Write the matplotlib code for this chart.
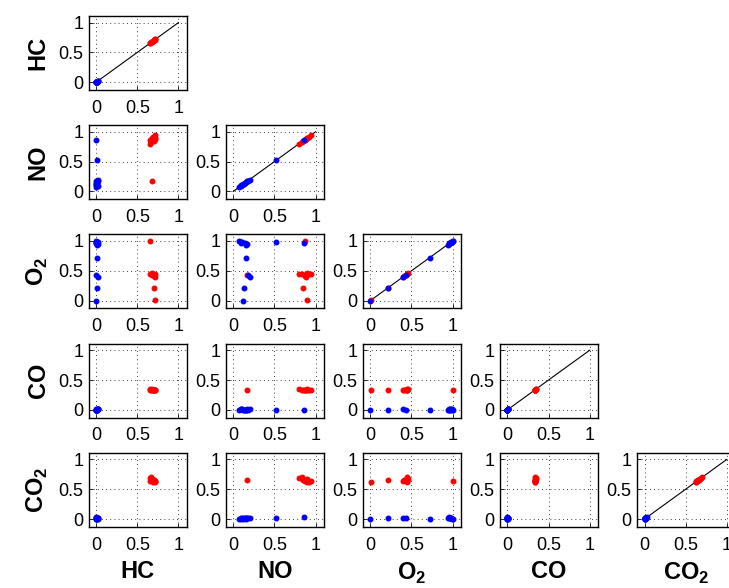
import matplotlib
matplotlib.use("Agg")
import matplotlib.pyplot as plt
import numpy as np

plt.rcParams['font.family'] = ['Liberation Sans', 'DejaVu Sans']
plt.rcParams['mathtext.fontset'] = 'custom'
plt.rcParams['mathtext.bf'] = 'Liberation Sans:bold'
plt.rcParams['mathtext.rm'] = 'Liberation Sans'

names = ['HC', 'NO', r'O$_\mathbf{2}$', 'CO', r'CO$_\mathbf{2}$']

# blaue Gruppe: HC, NO, O2, CO, CO2
blue_HC = [0.00, 0.01, 0.00, 0.02, 0.01, 0.00, 0.02, 0.01, 0.00, 0.01, 0.00, 0.02, 0.01, 0.00]
blue_NO = [0.07, 0.10, 0.14, 0.17, 0.15, 0.18, 0.20, 0.13, 0.12, 0.52, 0.86, 0.09, 0.16, 0.11]
blue_O2 = [1.00, 0.97, 0.97, 0.95, 0.72, 0.43, 0.40, 0.22, 0.00, 0.98, 0.96, 0.99, 0.94, 0.98]
blue_CO = [0.00, 0.01, 0.00, 0.01, 0.00, 0.00, 0.01, 0.00, 0.00, 0.00, 0.00, 0.01, 0.00, 0.01]
blue_CO2 = [0.00, 0.01, 0.02, 0.01, 0.00, 0.01, 0.02, 0.01, 0.00, 0.02, 0.03, 0.00, 0.01, 0.02]

# rote Gruppe
red_HC = [0.65, 0.70, 0.72, 0.68, 0.66, 0.67, 0.70, 0.72, 0.69, 0.71, 0.68]
red_NO = [0.87, 0.85, 0.90, 0.17, 0.80, 0.83, 0.87, 0.94, 0.92, 0.88, 0.90]
red_O2 = [1.00, 0.22, 0.01, 0.43, 0.44, 0.44, 0.41, 0.44, 0.45, 0.40, 0.46]
red_CO = [0.34, 0.33, 0.33, 0.34, 0.35, 0.34, 0.33, 0.34, 0.33, 0.34, 0.35]
red_CO2 = [0.64, 0.65, 0.62, 0.65, 0.68, 0.70, 0.66, 0.63, 0.62, 0.64, 0.67]

blue = [blue_HC, blue_NO, blue_O2, blue_CO, blue_CO2]
red = [red_HC, red_NO, red_O2, red_CO, red_CO2]

W, H = 729, 588
fig = plt.figure(figsize=(W/100, H/100), dpi=100)

n = len(names)
for i in range(n):       # Zeile
    for j in range(i+1):  # Spalte
        left = 88.7 + 137.1*j
        top = 16 + 109.2*i
        ax = fig.add_axes([left/W, 1 - (top + 74)/H, 98/W, 74/H])
        if i == j:
            ax.plot([0, 1], [0, 1], 'k-', lw=0.8, zorder=1)
        ax.plot(red[j], red[i], '.', color=(1, 0, 0), ms=6.5, zorder=2)
        ax.plot(blue[j], blue[i], '.', color=(0, 0, 1), ms=6.5, zorder=3)
        ax.set_xlim(-0.09, 1.1)
        ax.set_ylim(-0.13, 1.11)
        ax.set_xticks([0, 0.5, 1])
        ax.set_yticks([0, 0.5, 1])
        ax.set_xticklabels(['0', '0.5', '1'])
        ax.set_yticklabels(['0', '0.5', '1'])
        ax.tick_params(direction='in', length=3, labelsize=13, width=0.6)
        ax.tick_params(axis='y', pad=4)
        ax.tick_params(axis='x', pad=7)
        ax.grid(True, color='k', linestyle=(0, (1, 4)), linewidth=0.6)
        for s in ax.spines.values():
            s.set_linewidth(1.0)
        if j == 0:
            ax.set_ylabel(names[i], fontsize=17, fontweight='bold', labelpad=6)
        if i == n - 1:
            ax.set_xlabel(names[j], fontsize=17, fontweight='bold', labelpad=5)

plt.savefig('out.png', dpi=100)
